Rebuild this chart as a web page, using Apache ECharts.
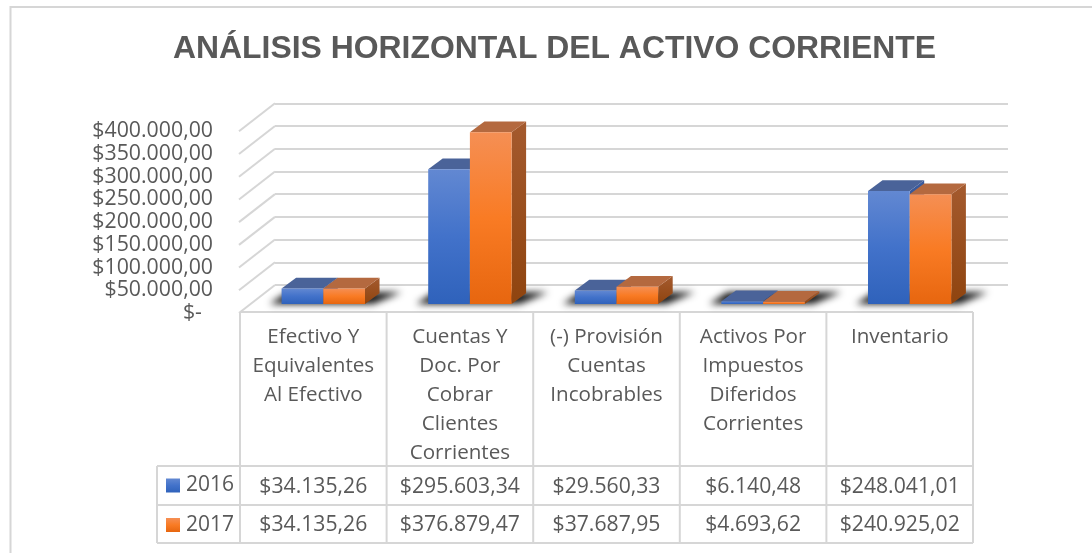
<!DOCTYPE html>
<html><head><meta charset="utf-8">
<style>html,body{margin:0;padding:0;background:#fff}#c{width:1092px;height:554px}</style>
<script src="https://cdn.jsdelivr.net/npm/echarts@6/dist/echarts.min.js"></script>
</head><body><div id="c"></div>
<script>
const categories = ['Efectivo Y\nEquivalentes\nAl Efectivo','Cuentas Y\nDoc. Por\nCobrar\nClientes\nCorrientes','(-) Provisión\nCuentas\nIncobrables','Activos Por\nImpuestos\nDiferidos\nCorrientes','Inventario'];
const values2016 = [34135.26,295603.34,29560.33,6140.48,248041.01];
const values2017 = [34135.26,376879.47,37687.95,4693.62,240925.02];
const labels2016 = ['$34.135,26','$295.603,34','$29.560,33','$6.140,48','$248.041,01'];
const labels2017 = ['$34.135,26','$376.879,47','$37.687,95','$4.693,62','$240.925,02'];
const yTicks = [0,50000,100000,150000,200000,250000,300000,350000,400000];
const titleText = 'ANÁLISIS HORIZONTAL DEL ACTIVO CORRIENTE';

const TXT='#595959', LINE='#d6d6d6', FONT='"Open Sans"';
const grad=(a,b,c)=>new echarts.graphic.LinearGradient(0,0,0,1,[{offset:0,color:a},{offset:.5,color:b},{offset:1,color:c}]);
const blue=()=>grad('#6288d2','#4272ca','#2f62bb');
const orange=()=>grad('#f58f54','#f97b24','#e7660f');
const DX=14.5, DY=-10.8, BW=41.7, OFF=3000;
const fmtY=v=>v===0?'$-  ':'$'+(v/1000).toFixed(0)+'.000,00';

function barItem(vals,side,topColor,sideA,sideB,front){
  return (p,api)=>{
    const i=api.value(0), v=vals[i];
    const base=api.coord([i,0]), top=api.coord([i,v]);
    const x0=base[0]+(side<0?-BW:0), x1=x0+BW, yb=base[1], yt=top[1];
    const kids=[];
    kids.push({type:'polygon',shape:{points:[[x1,yt],[x1+DX,yt+DY],[x1+DX,yb+DY],[x1,yb]]},
      style:{fill:new echarts.graphic.LinearGradient(0,0,0,1,[{offset:0,color:sideA},{offset:1,color:sideB}])}});
    kids.push({type:'polygon',shape:{points:[[x0,yt],[x0+DX,yt+DY],[x1+DX,yt+DY],[x1,yt]]},style:{fill:topColor}});
    kids.push({type:'rect',shape:{x:x0,y:yt,width:BW,height:Math.max(yb-yt,1)},style:{fill:front()}});
    return {type:'group',children:kids};
  };
}
function shadowItem(p,api){
  const i=api.value(0), b=api.coord([i,0]);
  const xl=b[0]-BW, xr=b[0]+BW, yb=b[1];
  return {type:'polygon',shape:{points:[[xl-12-OFF,yb],[xl+6-OFF,yb+DY-1],[xr+DX+22-OFF,yb+DY-1],[xr+8-OFF,yb]]},
    style:{fill:'#111',shadowBlur:7,shadowColor:'rgba(20,20,20,1)',shadowOffsetX:OFF}};
}
function gridItem(p,api){
  const b=api.coord([0,api.value(0)]);
  return {type:'line',shape:{x1:p.coordSys.x,y1:b[1],x2:p.coordSys.x-36,y2:b[1]+28},style:{stroke:LINE,lineWidth:2}};
}
function cellText(list,y){
  return (p,api)=>{
    const i=api.value(0), c=api.coord([i,0]);
    return {type:'text',style:{x:c[0],y:y,text:list[i],fill:TXT,font:'21.2px '+FONT,textAlign:'center',textVerticalAlign:'middle'}};
  };
}
function tableItem(p,api){
  const cs=p.coordSys, L=cs.x, R=cs.x+cs.width, band=cs.width/categories.length, kids=[];
  const T=cs.y+cs.height-1, ROW1=466, ROW2=505, BOT=543, LEFT=157;
  const s={stroke:LINE,lineWidth:2};
  const hl=(x1,x2,y)=>kids.push({type:'line',shape:{x1,y1:y,x2,y2:y},style:s});
  const vl=(x,y1,y2)=>kids.push({type:'line',shape:{x1:x,y1,x2:x,y2},style:s});
  hl(L,R,T); hl(LEFT,R,ROW1); hl(LEFT,R,ROW2); hl(LEFT,R,BOT);
  vl(LEFT,ROW1,BOT);
  for(let k=0;k<=categories.length;k++) vl(L+band*k,T,BOT);
  return {type:'group',children:kids};
}
const idx=categories.map((_,i)=>[i]);
const option={
  animation:false,backgroundColor:'#fff',
  title:{text:titleText,left:173,top:33,padding:0,
    textStyle:{color:TXT,fontFamily:'"Liberation Sans"',fontWeight:'bold',fontSize:31.9}},
  legend:{show:true,data:['2016','2017'],orient:'vertical',left:166,top:475,padding:0,itemWidth:14,itemHeight:14,itemGap:18.5,
    selectedMode:false,icon:'rect',textStyle:{color:TXT,fontFamily:FONT,fontSize:21,padding:[0,0,0,1]}},
  grid:[
    {left:275,width:733,top:103.3,height:181.7,show:false},
    {left:250,width:733,top:121.8,height:182.2,show:false},
    {left:240,width:733,top:131,height:182,show:false}
  ],
  xAxis:[
    {gridIndex:0,type:'category',data:categories,show:false},
    {gridIndex:1,type:'category',data:categories,show:false},
    {gridIndex:2,type:'category',data:categories,axisTick:{show:false},axisLine:{show:false},
      axisLabel:{interval:0,color:TXT,fontFamily:FONT,fontSize:20.6,lineHeight:29,margin:10,verticalAlign:'top'}}
  ],
  yAxis:[
    {gridIndex:0,type:'value',min:0,max:400000,interval:50000,axisLine:{show:false},axisTick:{show:false},axisLabel:{show:false},
      splitLine:{lineStyle:{color:LINE,width:2}}},
    {gridIndex:1,type:'value',min:0,max:400000,interval:50000,show:false,splitLine:{show:false}},
    {gridIndex:2,type:'value',min:0,max:400000,interval:50000,axisLine:{show:false},axisTick:{show:false},splitLine:{show:false},
      axisLabel:{color:TXT,fontFamily:FONT,fontSize:21.3,margin:27,formatter:fmtY,padding:[3,0,0,0]}}
  ],
  series:[
    {type:'custom',xAxisIndex:0,yAxisIndex:0,data:yTicks.map(v=>[v]),encode:{x:-1,y:0},renderItem:gridItem,silent:true,z:1},
    {type:'custom',xAxisIndex:2,yAxisIndex:2,data:[[0]],encode:{x:0},renderItem:tableItem,silent:true,z:1},
    {type:'custom',xAxisIndex:1,yAxisIndex:1,data:idx,encode:{x:0},renderItem:shadowItem,silent:true,clip:false,z:2},
    {name:'2016',type:'custom',xAxisIndex:1,yAxisIndex:1,data:idx,encode:{x:0},itemStyle:{color:blue()},
      renderItem:barItem(values2016,-1,'#4a6399','#3a5a9c','#2b4f96',blue),z:3},
    {name:'2017',type:'custom',xAxisIndex:1,yAxisIndex:1,data:idx,encode:{x:0},itemStyle:{color:orange()},
      renderItem:barItem(values2017,1,'#b4693f','#a45a2e','#8f440f',orange),z:4},
    {type:'custom',xAxisIndex:2,yAxisIndex:2,data:idx,encode:{x:0},renderItem:cellText(labels2016,486.5),silent:true,z:5},
    {type:'custom',xAxisIndex:2,yAxisIndex:2,data:idx,encode:{x:0},renderItem:cellText(labels2017,525),silent:true,z:5}
  ],
  graphic:[{type:'polyline',shape:{points:[[10.5,553],[10.5,7],[1092,7]]},style:{fill:'none',stroke:LINE,lineWidth:2},silent:true,z:0}]
};
const chart=echarts.init(document.getElementById('c'),null,{renderer:'canvas'});
chart.setOption(option);
</script></body></html>
